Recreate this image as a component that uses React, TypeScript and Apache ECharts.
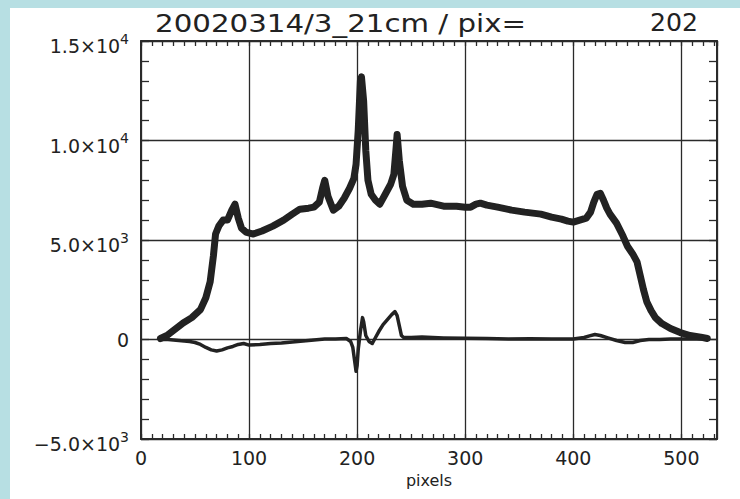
import React, { useEffect, useRef } from "react";
import * as echarts from "echarts";

// ---- data ----
const upperPixels = [18, 24, 30, 39, 47, 55, 60, 64, 67, 69, 72, 76, 80, 84, 87, 90, 93, 97, 104, 112, 122, 132, 140, 147, 155, 160, 165, 168, 170, 173, 178, 183, 188, 193, 197, 199, 201, 203, 204, 206, 208, 210, 213, 217, 221, 226, 231, 234, 236, 237, 239, 242, 246, 252, 260, 268, 280, 292, 300, 305, 310, 314, 320, 330, 343, 355, 370, 380, 389, 395, 400, 406, 412, 416, 419, 422, 425, 428, 431, 434, 440, 446, 450, 455, 459, 462, 465, 468, 472, 476, 482, 490, 499, 508, 518, 524];
const upperValues = [50, 200, 450, 830, 1100, 1500, 2100, 2900, 4200, 5300, 5700, 6000, 6000, 6500, 6800, 6100, 5600, 5400, 5300, 5450, 5700, 6000, 6300, 6550, 6600, 6650, 6900, 7600, 8000, 7200, 6500, 6700, 7100, 7600, 8100, 8800, 10500, 13000, 13200, 12000, 9500, 8000, 7300, 7000, 6800, 7300, 7800, 8300, 9600, 10300, 9000, 7700, 7000, 6800, 6800, 6850, 6700, 6700, 6650, 6650, 6800, 6850, 6750, 6650, 6500, 6400, 6300, 6150, 6050, 5950, 5900, 6000, 6100, 6400, 6900, 7300, 7350, 7000, 6600, 6300, 5850, 5200, 4700, 4300, 3900, 3200, 2500, 1900, 1450, 1100, 800, 550, 350, 200, 120, 50];

const lowerPixels = [18, 25, 35, 45, 50, 55, 60, 65, 70, 75, 80, 85, 90, 95, 100, 110, 120, 130, 140, 150, 160, 170, 180, 190, 194, 196, 198, 199, 200, 201, 203, 205, 206, 208, 211, 214, 217, 220, 224, 228, 232, 235, 237, 239, 241, 243, 250, 260, 280, 300, 320, 340, 360, 380, 400, 410, 415, 420, 425, 432, 440, 448, 455, 462, 470, 480, 490, 500, 510, 520];
const lowerValues = [0, 0, -50, -100, -150, -250, -400, -520, -580, -520, -420, -350, -250, -200, -280, -250, -200, -180, -120, -80, -20, 20, 30, 50, -100, -400, -1200, -1600, -1300, -500, 400, 1100, 900, 200, -100, -200, 100, 400, 750, 1000, 1250, 1400, 1200, 700, 200, 100, 100, 120, 80, 60, 50, 20, 40, 20, 20, 100, 180, 250, 200, 80, -50, -150, -150, -50, 0, 0, 20, 20, 30, 20];

const xLabelValues = [0, 100, 200, 300, 400, 500];
const yLabelValues = [15000, 10000, 5000, 0, -5000];
const yLabelMantissas = ["1.5×10", "1.0×10", "5.0×10", "0", "−5.0×10"];
const yLabelExponents = ["4", "4", "3", "", "3"];

const titleText = "20020314/3_21cm / pix=";
const titleValue = "202";
const xAxisName = "pixels";

const INK = "#222222";
const FONT = "DejaVu Sans";

export default function App() {
  const ref = useRef<HTMLDivElement>(null);

  useEffect(() => {
    if (!ref.current) return;
    const chart = echarts.init(ref.current, undefined, { renderer: "svg" });

    const upperData = upperPixels.map((x, i) => [x, upperValues[i]]);
    const lowerData = lowerPixels.map((x, i) => [x, lowerValues[i]]);

    const grid = { left: 141, top: 41, right: 23, bottom: 60 };

    const minorXAxisBase = {
      type: "value" as const,
      min: 0,
      max: 533,
      interval: 10,
      axisLine: { show: true, onZero: false, lineStyle: { color: "#2a2a2a", width: 2 } },
      axisTick: { show: true, inside: true, length: 5, lineStyle: { color: "#2a2a2a", width: 1.3 } },
      splitLine: { show: false },
    };
    const minorYAxisBase = {
      type: "value" as const,
      min: -5000,
      max: 15000,
      interval: 1000,
      axisLine: { show: true, onZero: false, lineStyle: { color: "#2a2a2a", width: 2 } },
      axisTick: { show: true, inside: true, length: 8, lineStyle: { color: "#2a2a2a", width: 1.3 } },
      splitLine: { show: false },
    };

    chart.setOption({
      animation: false,
      backgroundColor: "transparent",
      textStyle: { fontFamily: FONT, color: INK },
      grid,
      graphic: [
        {
          type: "text",
          x: 155,
          y: 23,
          scaleX: 1.22,
          style: {
            text: titleText,
            font: `24px "${FONT}"`,
            fill: INK,
            textAlign: "left",
            textVerticalAlign: "middle",
          },
        },
        {
          type: "text",
          x: 698,
          y: 23,
          scaleX: 1.05,
          style: {
            text: titleValue,
            font: `24px "${FONT}"`,
            fill: INK,
            textAlign: "right",
            textVerticalAlign: "middle",
          },
        },
      ],
      xAxis: [
        {
          ...minorXAxisBase,
          position: "bottom",
          name: xAxisName,
          nameLocation: "middle",
          nameGap: 33,
          nameTextStyle: { fontFamily: FONT, fontSize: 16, color: INK },
          axisLabel: {
            show: true,
            margin: 9,
            fontFamily: FONT,
            fontSize: 19,
            color: INK,
            showMaxLabel: false,
            formatter: (v: number) => (xLabelValues.includes(v) ? String(v) : ""),
          },
        },
        {
          ...minorXAxisBase,
          position: "top",
          axisLabel: { show: false },
        },
        {
          type: "value",
          min: 0,
          max: 533,
          interval: 100,
          position: "bottom",
          axisLine: { show: false, onZero: false },
          axisTick: { show: false },
          axisLabel: { show: false },
          splitLine: { show: true, lineStyle: { color: "#2a2a2a", width: 1.3 } },
        },
      ],
      yAxis: [
        {
          ...minorYAxisBase,
          position: "left",
          axisLabel: {
            show: true,
            margin: 12,
            fontFamily: FONT,
            color: INK,
            formatter: (v: number) => {
              const i = yLabelValues.indexOf(v);
              if (i < 0) return "";
              if (!yLabelExponents[i]) return `{z|${yLabelMantissas[i]}}`;
              return `{m|${yLabelMantissas[i]}}{e|${yLabelExponents[i]}}`;
            },
            rich: {
              m: { fontFamily: FONT, fontSize: 19, color: INK, padding: [10, 0, 0, 0] },
              e: { fontFamily: FONT, fontSize: 14, color: INK, verticalAlign: "top", padding: [5, 0, 0, 0] },
              z: { fontFamily: FONT, fontSize: 19, color: INK },
            },
          },
        },
        {
          ...minorYAxisBase,
          position: "right",
          axisLabel: { show: false },
        },
        {
          type: "value",
          min: -5000,
          max: 15000,
          interval: 5000,
          position: "left",
          axisLine: { show: false, onZero: false },
          axisTick: { show: false },
          axisLabel: { show: false },
          splitLine: { show: true, lineStyle: { color: "#2a2a2a", width: 1.3 } },
        },
      ],
      series: [
        {
          type: "line",
          xAxisIndex: 0,
          yAxisIndex: 0,
          data: upperData,
          showSymbol: false,
          symbol: "none",
          lineStyle: { color: INK, width: 7, join: "round", cap: "round" },
          z: 5,
        },
        {
          type: "line",
          xAxisIndex: 0,
          yAxisIndex: 0,
          data: lowerData,
          showSymbol: false,
          symbol: "none",
          lineStyle: { color: INK, width: 3.5, join: "round", cap: "round" },
          z: 5,
        },
      ],
    });

    return () => {
      chart.dispose();
    };
  }, []);

  return (
    <div
      style={{
        position: "fixed",
        left: 0,
        top: 0,
        width: 740,
        height: 499,
        background: "#b7dfe3",
        overflow: "hidden",
      }}
    >
      <div
        style={{
          position: "absolute",
          left: 10,
          top: 8,
          width: 730,
          height: 491,
          background: "#ffffff",
        }}
      />
      <div ref={ref} style={{ position: "absolute", left: 0, top: 0, width: 740, height: 499 }} />
    </div>
  );
}
